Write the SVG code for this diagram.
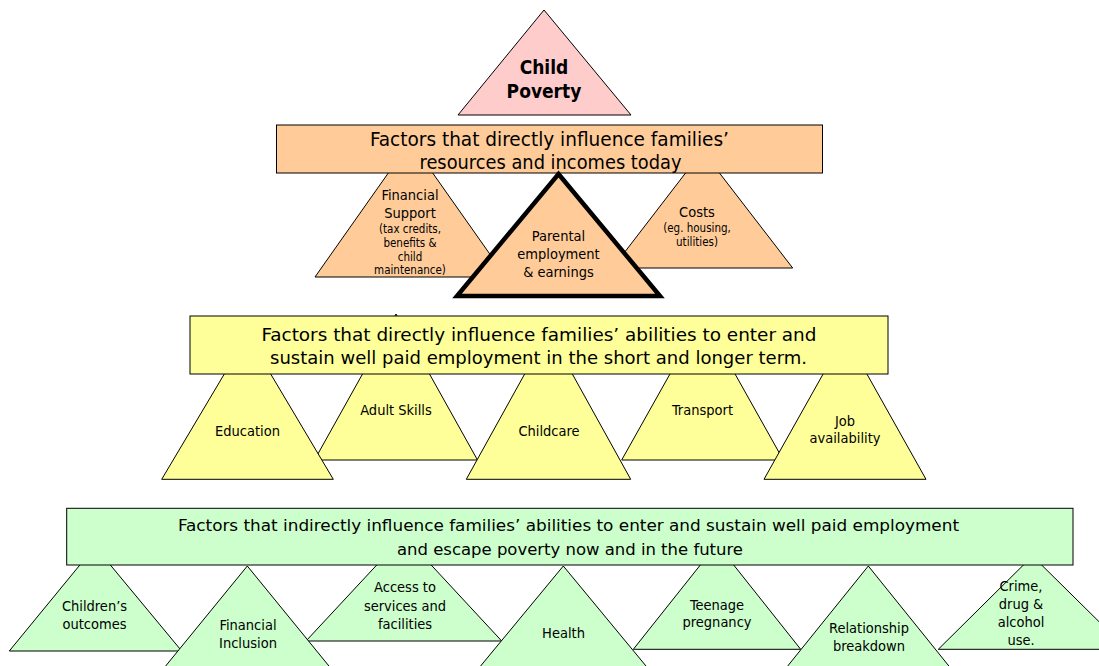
<svg xmlns="http://www.w3.org/2000/svg" width="1099" height="666" viewBox="0 0 1099 666">
<style>
  .t { font-family: "DejaVu Sans Condensed", "DejaVu Sans", sans-serif; font-stretch: condensed; fill: #000; text-anchor: middle; }
  .shape { stroke: #000; stroke-width: 1; stroke-linejoin: miter; }
  .pink { fill: #FFCCCC; }
  .orange { fill: #FFCC99; }
  .yellow { fill: #FFFF99; }
  .green { fill: #CCFFCC; }
  .bar1 { font-size: 19px; }
  .bar2 { font-size: 18px; }
  .bar3 { font-size: 16.5px; }
  .lbl { font-size: 14.5px; }
  .sm { font-size: 11.5px; }
  .big { font-size: 19px; font-weight: bold; }
</style>
<rect width="1099" height="666" fill="#FFFFFF"/>

<g id="child-poverty">
  <polygon class="shape pink" points="544,10 631,115 458,115"/>
  <text class="t big" x="544" y="74">Child</text>
  <text class="t big" x="544" y="98">Poverty</text>
</g>

<!-- Level 1: orange -->
<g id="financial-support">
  <polygon class="shape orange" points="410.5,141.5 506,277 315,277"/>
  <text class="t lbl" x="410" y="200">Financial</text>
  <text class="t lbl" x="410" y="218">Support</text>
  <text class="t sm" x="410" y="233">(tax credits,</text>
  <text class="t sm" x="410" y="247">benefits &amp;</text>
  <text class="t sm" x="410" y="261">child</text>
  <text class="t sm" x="410" y="274">maintenance)</text>
</g>
<g id="costs">
  <polygon class="shape orange" points="702.5,151 792.7,268 612.5,268"/>
  <text class="t lbl" x="697" y="217">Costs</text>
  <text class="t sm" x="697" y="231.5">(eg. housing,</text>
  <text class="t sm" x="697" y="245.5">utilities)</text>
</g>
<g id="direct-resources-bar">
  <rect class="shape orange" x="276.5" y="125" width="546" height="48"/>
  <text class="t bar1" x="549.5" y="146" textLength="359" lengthAdjust="spacingAndGlyphs">Factors that directly influence families’</text>
  <text class="t bar1" x="550.5" y="168.5" textLength="262" lengthAdjust="spacingAndGlyphs">resources and incomes today</text>
</g>
<g id="parental-employment">
  <polygon points="558.5,174 660,296 457,296" fill="#FFCC99" stroke="#000" stroke-width="4.5" stroke-linejoin="miter"/>
  <text class="t lbl" x="558.5" y="241">Parental</text>
  <text class="t lbl" x="558.5" y="259">employment</text>
  <text class="t lbl" x="558.5" y="277">&amp; earnings</text>
</g>

<!-- Level 2: yellow -->
<g id="adult-skills">
  <polygon class="shape yellow" points="396,314 477.5,460 314.5,460"/>
  <text class="t lbl" x="396" y="415">Adult Skills</text>
</g>
<g id="transport">
  <polygon class="shape yellow" points="702.5,316 783.3,460 621.7,460"/>
  <text class="t lbl" x="702.5" y="415">Transport</text>
</g>
<g id="education">
  <polygon class="shape yellow" points="247.5,335 333.3,479.3 161.7,479.3"/>
  <text class="t lbl" x="247.5" y="436">Education</text>
</g>
<g id="childcare">
  <polygon class="shape yellow" points="548.5,331 630.7,479.3 466.3,479.3"/>
  <text class="t lbl" x="549" y="436">Childcare</text>
</g>
<g id="job-availability">
  <polygon class="shape yellow" points="845,335 926,479.3 764,479.3"/>
  <text class="t lbl" x="845" y="426">Job</text>
  <text class="t lbl" x="845" y="443">availability</text>
</g>
<g id="employment-abilities-bar">
  <rect class="shape yellow" x="190" y="316" width="698" height="58"/>
  <text class="t bar2" x="539" y="340.7" textLength="555" lengthAdjust="spacingAndGlyphs">Factors that directly influence families’ abilities to enter and</text>
  <text class="t bar2" x="538.5" y="363.5" textLength="537" lengthAdjust="spacingAndGlyphs">sustain well paid employment in the short and longer term.</text>
</g>

<!-- Level 3: green -->
<g id="childrens-outcomes">
  <polygon class="shape green" points="95,546.5 181.7,651 9.3,651"/>
  <text class="t lbl" x="94.5" y="611">Children’s</text>
  <text class="t lbl" x="94.5" y="629">outcomes</text>
</g>
<g id="access-to-services">
  <polygon class="shape green" points="404,535.7 501.7,641 306,641"/>
  <text class="t lbl" x="405" y="592">Access to</text>
  <text class="t lbl" x="405" y="610.5">services and</text>
  <text class="t lbl" x="405" y="629">facilities</text>
</g>
<g id="teenage-pregnancy">
  <polygon class="shape green" points="717,544 800.7,649.3 633.3,649.3"/>
  <text class="t lbl" x="717" y="610">Teenage</text>
  <text class="t lbl" x="717" y="627">pregnancy</text>
</g>
<g id="crime-drug-alcohol">
  <polygon class="shape green" points="1032.5,556 1127,649.3 938.3,649.3"/>
  <text class="t lbl" x="1021" y="591">Crime,</text>
  <text class="t lbl" x="1021" y="609">drug &amp;</text>
  <text class="t lbl" x="1021" y="627">alcohol</text>
  <text class="t lbl" x="1021" y="645">use.</text>
</g>
<g id="indirect-factors-bar">
  <rect class="shape green" x="66.7" y="508.3" width="1006.3" height="56.7"/>
  <text class="t bar3" x="568.5" y="531" textLength="781" lengthAdjust="spacingAndGlyphs">Factors that indirectly influence families’ abilities to enter and sustain well paid employment</text>
  <text class="t bar3" x="570" y="555" textLength="346" lengthAdjust="spacingAndGlyphs">and escape poverty now and in the future</text>
</g>
<g id="financial-inclusion">
  <polygon class="shape green" points="247.3,566 332.2,670 162.4,670"/>
  <text class="t lbl" x="248" y="630">Financial</text>
  <text class="t lbl" x="248" y="648">Inclusion</text>
</g>
<g id="health">
  <polygon class="shape green" points="563.3,566 649.3,670 477.3,670"/>
  <text class="t lbl" x="563.5" y="637.5">Health</text>
</g>
<g id="relationship-breakdown">
  <polygon class="shape green" points="868.3,566 952.1,670 784.5,670"/>
  <text class="t lbl" x="869" y="633">Relationship</text>
  <text class="t lbl" x="869" y="651">breakdown</text>
</g>

<g id="connectors"></g>
</svg>
